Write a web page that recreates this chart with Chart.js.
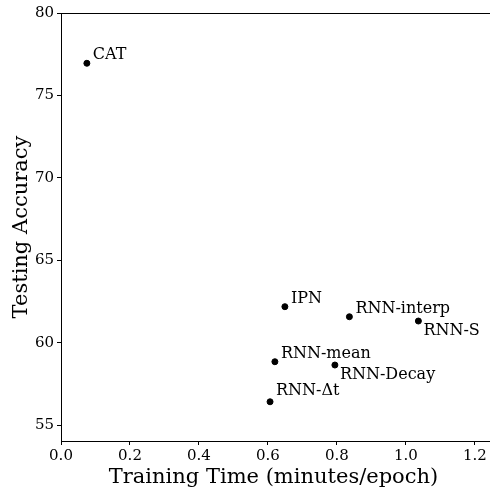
<!DOCTYPE html>
<html>
<head>
<meta charset="utf-8">
<script src="https://cdn.jsdelivr.net/npm/chart.js@4.4.1/dist/chart.umd.min.js"></script>
<style>
  html, body { margin: 0; padding: 0; background: #fff; }
  #wrap { width: 490px; height: 487px; }
</style>
</head>
<body>
<div id="wrap"><canvas id="myChart" width="490" height="487"></canvas></div>
<script>
// model names, training time (minutes/epoch) and testing accuracy
const models = ['CAT', 'IPN', 'RNN-interp', 'RNN-S', 'RNN-mean', 'RNN-Decay', 'RNN-\u0394t'];
const trainTime = [0.075, 0.649, 0.836, 1.036, 0.620, 0.794, 0.606];
const testAcc = [76.95, 62.18, 61.57, 61.31, 58.84, 58.64, 56.41];
const xTicks = [0.0, 0.2, 0.4, 0.6, 0.8, 1.0, 1.2];
const yTicks = [55, 60, 65, 70, 75, 80];

// these labels sit below-right of the point, the rest above-right
const belowLabels = ['RNN-S', 'RNN-Decay'];

const serif = "'DejaVu Serif', serif";

// draws the top spine (the plot runs off the right edge) and the point labels
const labelPlugin = {
    id: 'labels',
    afterDatasetsDraw(chart) {
        const ctx = chart.ctx;
        const a = chart.chartArea;
        const xs = chart.scales.x, ys = chart.scales.y;
        ctx.save();
        ctx.strokeStyle = '#000';
        ctx.lineWidth = 1;
        ctx.beginPath();
        ctx.moveTo(a.left, a.top + 0.5);
        ctx.lineTo(chart.width, a.top + 0.5);
        ctx.moveTo(a.right - 1, a.bottom + 0.5);
        ctx.lineTo(chart.width, a.bottom + 0.5);
        ctx.stroke();

        ctx.fillStyle = '#000';
        ctx.font = '16px ' + serif;
        ctx.textAlign = 'left';
        ctx.textBaseline = 'alphabetic';
        models.forEach((name, i) => {
            const px = xs.getPixelForValue(trainTime[i]);
            const py = ys.getPixelForValue(testAcc[i]);
            if (belowLabels.includes(name)) {
                ctx.fillText(name, px + 5, py + 14);
            } else {
                // the delta label sits a little higher
                const lift = name === 'RNN-\u0394t' ? 6.5 : 4;
                ctx.fillText(name, px + 6, py - lift);
            }
        });
        ctx.restore();
    }
};

const ctx = document.getElementById('myChart').getContext('2d');
new Chart(ctx, {
    type: 'scatter',
    data: {
        datasets: [{
            data: trainTime.map((t, i) => ({ x: t, y: testAcc[i] })),
            backgroundColor: '#000',
            borderColor: '#000',
            pointRadius: 3,
            pointHoverRadius: 3
        }]
    },
    options: {
        responsive: false,
        animation: false,
        layout: { padding: { top: 13, right: 0, left: 0, bottom: 0 } },
        plugins: { legend: { display: false }, tooltip: { enabled: false } },
        scales: {
            x: {
                type: 'linear',
                min: 0,
                max: 1.232,
                afterBuildTicks: (s) => { s.ticks = xTicks.map(v => ({ value: v })); },
                afterFit: (s) => { s.height = 46; },
                grid: { display: true, drawOnChartArea: false, drawTicks: true, tickLength: 4, color: '#000' },
                border: { display: true, color: '#000', width: 1 },
                ticks: {
                    color: '#000',
                    padding: 2,
                    maxRotation: 0,
                    font: { family: serif, size: 15 },
                    callback: (v) => Number(v).toFixed(1)
                },
                title: {
                    display: true,
                    text: 'Training Time (minutes/epoch)',
                    color: '#000',
                    padding: { top: -3, bottom: -3 },
                    font: { family: serif, size: 21 }
                }
            },
            y: {
                type: 'linear',
                min: 54.03,
                max: 80,
                afterBuildTicks: (s) => { s.ticks = yTicks.map(v => ({ value: v })); },
                afterFit: (s) => { s.width = 61; },
                grid: { display: true, drawOnChartArea: false, drawTicks: true, tickLength: 4, color: '#000' },
                border: { display: true, color: '#000', width: 1 },
                ticks: {
                    color: '#000',
                    padding: 3,
                    font: { family: serif, size: 15 },
                    callback: (v) => String(v)
                },
                title: {
                    display: true,
                    text: 'Testing Accuracy',
                    color: '#000',
                    padding: { top: 9, bottom: 0 },
                    font: { family: serif, size: 21 }
                }
            }
        }
    },
    plugins: [labelPlugin]
});
</script>
</body>
</html>
